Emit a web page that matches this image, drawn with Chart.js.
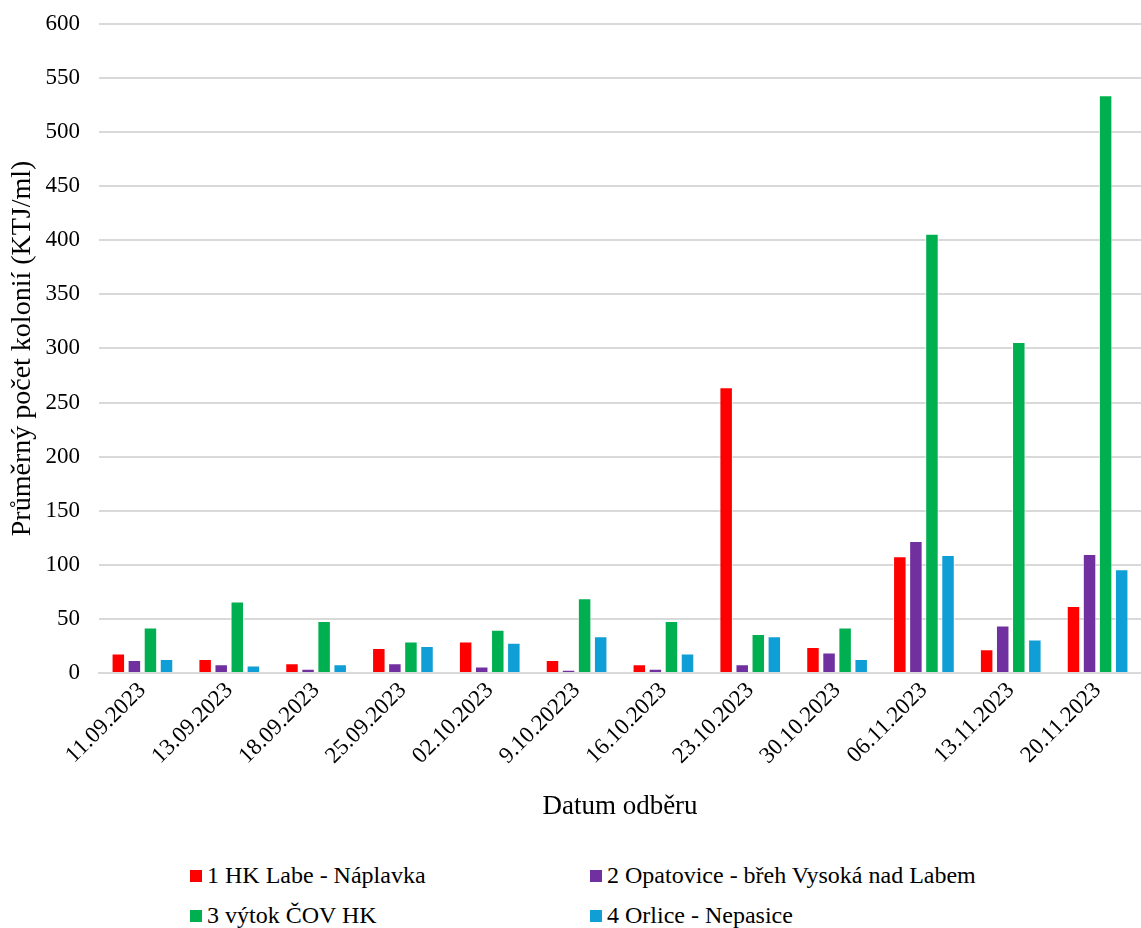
<!DOCTYPE html>
<html>
<head>
<meta charset="utf-8">
<script src="https://cdn.jsdelivr.net/npm/chart.js@4.4.0/dist/chart.umd.min.js"></script>
<style>
  body { margin: 0; background: #fff; font-family: "Liberation Serif", "Times New Roman", serif; overflow: hidden; }
  #wrap { position: relative; width: 1141px; height: 839px; margin-top: -9px; }
  #legend { position: absolute; left: 190px; top: 862px; width: 900px; }
  .item { position: absolute; font-size: 24px; color: #000; white-space: nowrap; }
  .item span.box { display: inline-block; width: 12px; height: 12px; margin-right: 5px; vertical-align: 1px; }
</style>
</head>
<body>
<div id="wrap"><canvas id="myChart"></canvas></div>
<div id="legend"></div>
<script>
const dates = ["11.09.2023","13.09.2023","18.09.2023","25.09.2023","02.10.2023","9.10.20223","16.10.2023","23.10.2023","30.10.2023","06.11.2023","13.11.2023","20.11.2023"];

const labeNaplavka = [18, 13, 9, 23, 29, 12, 8, 264, 24, 108, 22, 62];
const opatovice   = [12, 8, 4, 9, 6, 3, 4, 8, 19, 122, 44, 110];
const vytokCOV    = [42, 66, 48, 29, 40, 69, 48, 36, 42, 406, 306, 534];
const orlice      = [13, 7, 8, 25, 28, 34, 18, 34, 13, 109, 31, 96];

const seriesNames = ["1 HK Labe - Náplavka", "2 Opatovice - břeh Vysoká nad Labem", "3 výtok ČOV HK", "4 Orlice - Nepasice"];
const seriesColors = ["#ff0000", "#7030a0", "#00b050", "#0f9ed5"];

const yTicks = [0, 50, 100, 150, 200, 250, 300, 350, 400, 450, 500, 550, 600];

const font = "'Liberation Serif', 'Times New Roman', serif";

function ds(i, values){
    return {
        label: seriesNames[i],
        data: values,
        backgroundColor: seriesColors[i],
        borderColor: "rgba(255,255,255,0.7)",
        borderWidth: 1,
        categoryPercentage: 0.74,
        barPercentage: 0.84
    };
}

const data = {
    labels: dates,
    datasets: [
        ds(0, labeNaplavka),
        ds(1, opatovice),
        ds(2, vytokCOV),
        ds(3, orlice)
    ]
};

const config = {
    type: "bar",
    data: data,
    options: {
        responsive: true,
        maintainAspectRatio: false,
        animation: false,
        layout: { padding: { top: 3, right: 0, left: 0, bottom: 7 } },
        plugins: {
            legend: { display: false },
            tooltip: { enabled: false }
        },
        scales: {
            x: {
                afterFit: function(scale){
                    scale.height = 150;
                },
                grid: { display: false, drawTicks: false },
                border: { color: "#d9d9d9", width: 2 },
                ticks: {
                    color: "#000",
                    font: { family: font, size: 23 },
                    maxRotation: 45,
                    minRotation: 45,
                    padding: 4
                },
                title: {
                    display: true,
                    text: "Datum odběru",
                    color: "#000",
                    font: { family: font, size: 27 },
                    padding: { top: 8, bottom: 0 }
                }
            },
            y: {
                min: 0,
                max: 600,
                afterBuildTicks: function(scale){
                    scale.ticks = yTicks.map(v => ({ value: v }));
                },
                afterFit: function(scale){
                    scale.width = 99;
                },
                grid: { color: "#d9d9d9", lineWidth: 2, drawTicks: false },
                border: { display: false },
                ticks: {
                    color: "#000",
                    font: { family: font, size: 23 },
                    padding: 19
                },
                title: {
                    display: true,
                    text: "Průměrný počet kolonií (KTJ/ml)",
                    color: "#000",
                    font: { family: font, size: 28 },
                    padding: { top: 6, bottom: 0 }
                }
            }
        }
    }
};

const ctx = document.getElementById("myChart").getContext("2d");
const myChart = new Chart(ctx, config);

// legend in two columns like the original
const legendPos = [[0, 0], [400, 0], [0, 40], [400, 40]];
const legend = document.getElementById("legend");
seriesNames.forEach(function(name, i){
    const el = document.createElement("div");
    el.className = "item";
    el.style.left = legendPos[i][0] + "px";
    el.style.top = legendPos[i][1] + "px";
    el.innerHTML = '<span class="box" style="background:' + seriesColors[i] + '"></span>' + name;
    legend.appendChild(el);
});
</script>
</body>
</html>
